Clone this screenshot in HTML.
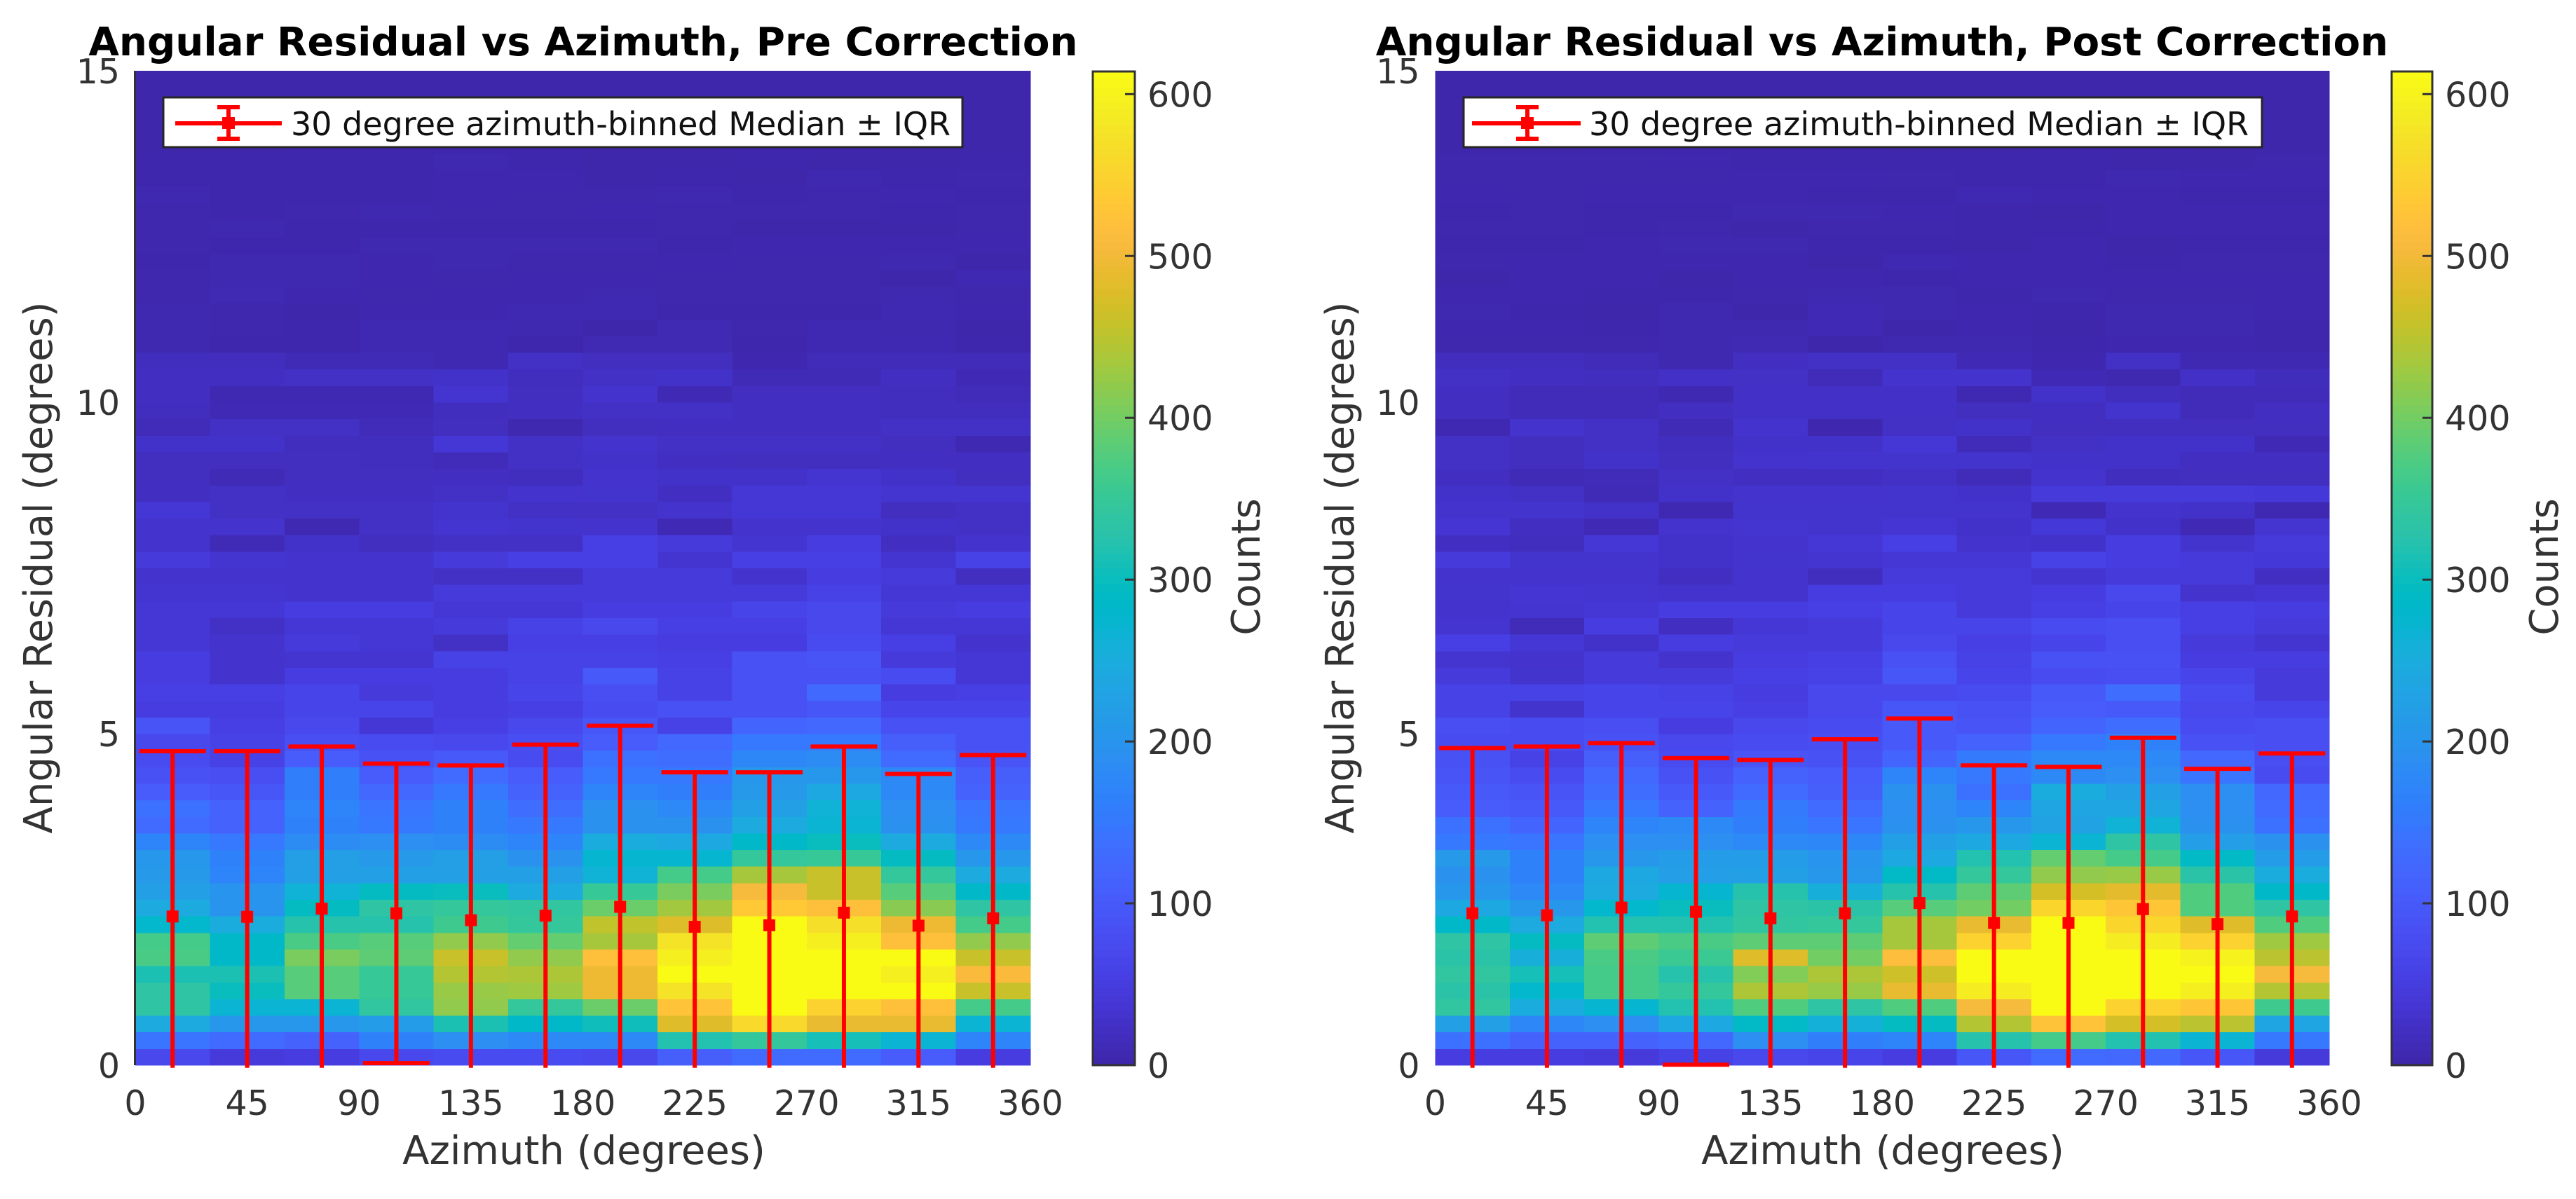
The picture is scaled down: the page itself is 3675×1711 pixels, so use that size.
<!DOCTYPE html>
<html lang="en">
<head>
<meta charset="utf-8">
<title>Angular Residual vs Azimuth</title>
<style>
html,body{margin:0;padding:0;background:#fff;}
svg{display:block;}
text{font-family:"DejaVu Sans","Liberation Sans",sans-serif;fill:#333;}
.ttl{font-size:56.3px;font-weight:bold;fill:#000;text-anchor:middle;}
.lab{font-size:56px;text-anchor:middle;}
.leg{font-size:46px;fill:#111;}
.tick{font-size:49px;}
</style>
</head>
<body>
<svg xmlns="http://www.w3.org/2000/svg" width="3675" height="1711" viewBox="0 0 3675 1711">
  <g id="pre-panel">
    <g id="pre-cells" shape-rendering="crispEdges"></g>
    <line x1="192.5" y1="101" x2="192.5" y2="1520" stroke="#333" stroke-width="3"/>
    <g id="pre-errorbars"></g>
    <g id="pre-xticks"></g>
    <g id="pre-yticks"></g>
    <text class="ttl" x="832" y="79">Angular Residual vs Azimuth, Pre Correction</text>
    <text class="lab" x="833" y="1661">Azimuth (degrees)</text>
    <text class="lab" transform="translate(74,810) rotate(-90)">Angular Residual (degrees)</text>
    <g>
      <rect x="233" y="139" width="1140" height="71" fill="#fff" stroke="#262626" stroke-width="3"/>
      <line x1="250" y1="176" x2="402" y2="176" stroke="#f00" stroke-width="6"/>
      <line x1="326" y1="153" x2="326" y2="198" stroke="#f00" stroke-width="6"/>
      <line x1="310" y1="153" x2="342" y2="153" stroke="#f00" stroke-width="6"/>
      <line x1="310" y1="198" x2="342" y2="198" stroke="#f00" stroke-width="6"/>
      <rect x="317" y="167" width="18" height="17" fill="#f00"/>
      <text class="leg" x="415" y="193">30 degree azimuth-binned Median ± IQR</text>
    </g>
    <g id="pre-colorbar"></g>
    <text class="lab" transform="translate(1797,809) rotate(-90)">Counts</text>
  </g>
  <g id="post-panel">
    <g id="post-cells" shape-rendering="crispEdges"></g>
    <g id="post-errorbars"></g>
    <g id="post-xticks"></g>
    <g id="post-yticks"></g>
    <text class="ttl" x="2685" y="79">Angular Residual vs Azimuth, Post Correction</text>
    <text class="lab" x="2686" y="1661">Azimuth (degrees)</text>
    <text class="lab" transform="translate(1931,810) rotate(-90)">Angular Residual (degrees)</text>
    <g>
      <rect x="2088" y="139" width="1139" height="71" fill="#fff" stroke="#262626" stroke-width="3"/>
      <line x1="2100" y1="176" x2="2255" y2="176" stroke="#f00" stroke-width="6"/>
      <line x1="2179" y1="153" x2="2179" y2="198" stroke="#f00" stroke-width="6"/>
      <line x1="2163" y1="153" x2="2195" y2="153" stroke="#f00" stroke-width="6"/>
      <line x1="2163" y1="198" x2="2195" y2="198" stroke="#f00" stroke-width="6"/>
      <rect x="2170" y="167" width="18" height="17" fill="#f00"/>
      <text class="leg" x="2267" y="193">30 degree azimuth-binned Median ± IQR</text>
    </g>
    <g id="post-colorbar"></g>
    <text class="lab" transform="translate(3649,809) rotate(-90)">Counts</text>
  </g>
</svg>
<script>
const xTickValues = [0,45,90,135,180,225,270,315,360];
const yTickValues = [0,5,10,15];
const colorbarTickValues = [0,100,200,300,400,500,600];
const azimuthBinCenters = [15,45,75,105,135,165,195,225,255,285,315,345];

const preMedian = [2.243,2.238,2.36,2.29,2.186,2.255,2.388,2.087,2.11,2.30,2.104,2.214];
const preUpper = [4.736,4.736,4.806,4.55,4.52,4.835,5.12,4.417,4.417,4.806,4.394,4.678];
const preLower = [-0.04,-0.04,-0.04,0.03,-0.04,-0.04,-0.04,-0.04,-0.04,-0.04,-0.04,-0.04];
const postMedian = [2.29,2.26,2.377,2.313,2.214,2.29,2.446,2.145,2.145,2.354,2.128,2.243];
const postUpper = [4.783,4.806,4.858,4.632,4.603,4.916,5.229,4.522,4.499,4.939,4.47,4.701];
const postLower = [-0.04,-0.04,-0.04,0.006,-0.04,-0.04,-0.04,-0.04,-0.04,-0.04,-0.04,-0.04];

// counts per 0.25 degree residual row (bottom row first), 12 azimuth columns
const preCounts = [
[70,45,50,70,75,75,70,110,130,130,105,50],
[145,130,115,165,190,180,180,320,345,310,270,170],
[245,205,205,215,315,285,305,480,560,490,490,270],
[335,270,270,340,420,345,395,525,614,550,520,365],
[335,300,380,350,425,430,495,575,614,614,614,460],
[315,315,380,350,445,440,495,614,614,614,595,510],
[370,285,405,385,460,420,520,595,614,614,614,460],
[365,285,370,380,420,390,435,575,614,595,520,420],
[280,250,325,325,360,345,455,478,614,570,495,365],
[245,200,295,335,345,340,395,432,535,520,415,335],
[225,200,265,295,300,245,350,405,505,460,380,285],
[210,170,225,225,225,225,265,365,435,460,345,245],
[205,165,222,210,222,195,275,275,345,350,295,205],
[170,150,185,190,185,170,250,240,285,300,245,180],
[130,115,165,150,165,150,195,195,245,270,195,150],
[140,115,170,145,165,135,195,180,225,265,190,145],
[105,95,160,125,150,115,170,160,210,240,180,115],
[85,80,160,105,130,105,150,150,205,205,180,110],
[75,60,105,85,100,75,140,135,175,185,130,90],
[70,60,80,75,70,80,105,125,150,150,110,85],
[90,55,70,40,55,70,95,60,120,125,85,85],
[50,50,65,65,50,55,75,85,85,95,65,65],
[55,55,65,45,50,65,80,60,85,127,50,55],
[50,30,50,50,50,60,100,60,85,88,75,40],
[50,30,35,35,60,60,60,55,85,90,45,40],
[40,30,45,40,25,55,55,50,50,75,55,30],
[40,25,40,40,45,60,70,55,55,70,40,40],
[40,40,50,50,40,40,50,50,65,70,45,50],
[35,35,30,30,45,45,45,45,45,60,40,40],
[30,30,30,30,25,25,45,45,30,50,45,20],
[45,35,30,30,45,55,55,35,55,55,35,60],
[30,12,28,20,25,25,55,45,35,50,22,30],
[30,30,8,25,35,32,30,10,30,30,28,25],
[40,25,25,25,32,25,25,30,40,40,20,25],
[22,25,22,22,25,30,32,22,40,40,35,35],
[20,12,20,20,22,18,30,28,28,35,28,20],
[20,20,20,18,14,25,28,22,20,20,22,22],
[28,28,18,18,40,25,30,25,25,25,20,8],
[14,25,25,15,20,6,20,22,22,22,24,24],
[18,10,10,10,18,22,25,25,22,22,18,18],
[22,8,8,8,35,20,30,10,22,22,18,15],
[22,22,25,25,28,18,25,28,12,12,22,10],
[18,18,12,12,8,24,20,20,5,14,14,14],
[6,3,3,8,8,3,9,9,3,8,8,3],
[6,4,3,8,8,7,2,9,4,8,7,2],
[6,4,2,5,5,8,8,3,3,3,8,5],
[4,9,5,4,5,5,7,4,4,4,7,4],
[4,6,6,5,4,5,5,4,4,4,1,8],
[3,6,6,5,6,4,4,5,4,4,6,2],
[4,3,3,6,6,6,6,3,5,5,5,5],
[4,7,3,3,3,3,3,4,2,2,2,4],
[4,3,4,6,4,4,5,4,4,4,3,4],
[7,3,3,3,5,4,4,6,3,4,5,3],
[3,3,3,3,5,5,2,3,2,7,3,4],
[3,3,3,3,6,3,2,2,3,2,2,3],
[2,2,3,3,3,3,2,2,3,3,2,2],
[2,2,2,2,2,2,2,2,2,2,2,2],
[2,2,2,2,2,2,2,2,2,2,2,2],
[1,1,1,1,1,1,1,1,1,1,1,1],
[1,1,1,1,1,1,1,1,1,1,1,1]
];
const postCounts = [
[50,50,45,60,70,65,50,95,130,125,95,45],
[140,115,115,125,190,160,170,325,365,320,270,150],
[225,175,190,240,290,260,295,445,525,470,450,235],
[340,250,275,320,375,335,375,505,614,550,530,360],
[330,280,365,345,440,425,490,590,614,614,595,445],
[340,310,365,325,410,440,465,614,614,614,614,505],
[330,255,370,355,480,400,515,614,614,614,600,450],
[335,295,385,370,385,385,435,550,614,590,550,430],
[285,245,320,320,340,345,435,490,614,555,480,375],
[240,205,280,300,335,330,380,400,555,530,375,335],
[205,180,245,275,325,255,325,385,470,485,375,285],
[195,165,240,220,225,205,290,345,420,425,330,250],
[210,165,205,215,215,200,240,320,390,365,290,215],
[150,145,190,190,180,175,225,240,270,335,220,195],
[140,120,170,180,160,145,195,205,230,265,195,140],
[105,100,150,115,155,130,190,170,235,235,190,130],
[100,90,135,100,130,110,195,140,250,225,190,125],
[90,75,125,85,115,105,170,150,180,190,145,75],
[85,60,110,75,90,85,120,155,180,180,125,80],
[75,75,85,70,75,80,100,115,150,165,85,80],
[80,75,80,50,70,75,100,90,120,135,75,80],
[60,32,65,65,55,70,95,85,105,100,70,65],
[60,60,65,60,50,70,70,75,100,135,75,45],
[45,32,45,45,55,60,95,65,75,80,65,45],
[35,30,45,30,50,55,85,60,85,85,50,50],
[55,40,28,50,45,45,70,55,65,80,45,35],
[35,15,50,22,40,45,65,65,75,80,55,45],
[30,35,40,50,50,55,65,45,55,65,55,50],
[32,38,35,30,30,50,50,45,50,70,30,38],
[30,30,30,22,30,18,45,45,35,45,45,22],
[45,32,32,28,32,35,40,40,60,50,45,42],
[22,18,40,28,30,40,55,30,28,50,32,45],
[38,22,10,30,35,32,38,28,42,28,10,35],
[30,32,28,8,32,32,32,32,10,30,28,8],
[28,25,12,28,30,30,32,28,45,45,45,42],
[22,12,14,25,22,22,25,15,30,18,20,20],
[25,20,28,20,30,32,32,32,28,28,22,22],
[25,20,25,18,28,28,40,15,25,28,28,10],
[8,30,25,12,30,5,25,28,20,20,20,20],
[22,14,14,22,26,26,26,20,22,32,14,22],
[22,14,14,8,26,26,26,8,28,18,14,14],
[25,22,18,26,25,14,30,30,10,6,26,16],
[18,18,14,6,22,25,25,10,5,25,8,8],
[4,4,4,6,9,2,6,7,3,5,5,3],
[5,5,3,7,6,10,2,5,2,7,6,3],
[6,3,2,6,2,10,6,5,3,6,7,5],
[5,5,3,3,4,7,7,3,7,4,4,5],
[2,5,5,2,5,5,3,5,5,5,5,5],
[4,5,5,5,5,2,8,5,5,3,4,4],
[3,3,5,6,6,3,3,1,5,2,3,3],
[4,4,3,4,2,4,4,3,3,5,5,5],
[3,4,3,3,6,6,5,3,2,5,5,5],
[5,4,5,5,5,3,3,8,5,5,3,3],
[4,4,4,4,5,5,4,3,3,6,5,5],
[4,4,4,5,3,3,3,3,3,2,2,4],
[2,2,3,3,3,3,2,2,3,3,2,2],
[2,2,2,2,2,2,2,2,2,2,2,2],
[2,2,2,2,2,2,2,2,2,2,2,2],
[1,1,1,1,1,1,1,1,1,1,1,1],
[1,1,1,1,1,1,1,1,1,1,1,1]
];

const parulaColormap = [
[.2422,.1504,.6603],[.2504,.165,.7076],[.2578,.1818,.7511],[.2647,.1978,.7952],[.2706,.2147,.8364],[.2751,.2342,.871],[.2783,.2559,.8991],[.2803,.2782,.9221],
[.2813,.3006,.9414],[.281,.3228,.9579],[.2795,.3447,.9717],[.276,.3667,.9829],[.2699,.3892,.9906],[.2602,.4123,.9952],[.244,.4358,.9988],[.2206,.4603,.9973],
[.1963,.4847,.9892],[.1834,.5074,.9798],[.1786,.5289,.9682],[.1764,.5499,.952],[.1687,.5703,.9359],[.154,.5902,.9218],[.146,.6091,.9079],[.138,.6276,.8973],
[.1248,.6459,.8883],[.1113,.6635,.8763],[.0952,.6798,.8598],[.0689,.6948,.8394],[.0297,.7082,.8163],[.0036,.7203,.7917],[.0067,.7312,.766],[.0433,.7411,.7394],
[.0964,.75,.712],[.1408,.7584,.6842],[.1717,.767,.6554],[.1938,.7758,.6251],[.2161,.7843,.5923],[.247,.7918,.5567],[.2906,.7973,.5188],[.3406,.8008,.4789],
[.3909,.8029,.4354],[.4456,.8024,.3909],[.5044,.7993,.348],[.5616,.7942,.3045],[.6174,.7876,.2612],[.672,.7793,.2227],[.7242,.7698,.191],[.7738,.7598,.1646],
[.8203,.7498,.1535],[.8634,.7406,.1596],[.9035,.733,.1774],[.9393,.7288,.21],[.9728,.7298,.2394],[.9956,.7434,.2371],[.997,.7659,.2199],[.9952,.7893,.2028],
[.9892,.8136,.1885],[.9786,.8386,.1766],[.9676,.8639,.1643],[.961,.889,.1537],[.9597,.9135,.1423],[.9628,.9373,.1265],[.9691,.9606,.1064],[.9769,.9839,.0805]
];

const SVGNS = 'http://www.w3.org/2000/svg';
const countMax = 614;
const azMax = 360;
const resMax = 15;
const rowStep = 0.25;
const binWidth = 30;
const plotTop = 101;
const plotBottom = 1520;
const colorbarStrips = 128;

function colorFor(v) {
  const t = Math.max(0, Math.min(1, v / countMax)) * 63;
  const i = Math.min(62, Math.floor(t));
  const f = t - i;
  const a = parulaColormap[i], b = parulaColormap[i + 1];
  return 'rgb(' + [0, 1, 2].map(function (k) { return Math.round((a[k] + (b[k] - a[k]) * f) * 255); }).join(',') + ')';
}
function make(tag, attrs, parent) {
  const node = document.createElementNS(SVGNS, tag);
  Object.keys(attrs).forEach(function (k) { node.setAttribute(k, attrs[k]); });
  parent.appendChild(node);
  return node;
}
function drawPanel(prefix, x0, x1, cbX0, cbX1, counts, median, upper, lower) {
  const xScale = function (az) { return x0 + az / azMax * (x1 - x0); };
  const yScale = function (r) { return plotBottom - r / resMax * (plotBottom - plotTop); };
  const cScale = function (c) { return plotBottom - c / countMax * (plotBottom - plotTop - 1); };

  const cellsG = document.getElementById(prefix + '-cells');
  counts.forEach(function (row, r) {
    row.forEach(function (value, c) {
      const xa = xScale(c * binWidth), xb = xScale((c + 1) * binWidth);
      const ya = yScale((r + 1) * rowStep), yb = yScale(r * rowStep);
      const cell = make('rect', {x: xa, y: ya, width: xb - xa + 0.5, height: yb - ya + 0.5, fill: colorFor(value)}, cellsG);
      
      
    });
  });

  const barsG = document.getElementById(prefix + '-errorbars');
  azimuthBinCenters.forEach(function (az, i) {
    const cx = xScale(az);
    const stem = make('line', {x1: cx, x2: cx, y1: yScale(upper[i]), y2: yScale(lower[i]), stroke: '#f00', 'stroke-width': 6}, barsG);
    
    
    const capTop = make('line', {x1: cx - 47.5, x2: cx + 47.5, y1: yScale(upper[i]), y2: yScale(upper[i]), stroke: '#f00', 'stroke-width': 6}, barsG);
    
    
    if (lower[i] >= 0) {
      const capLow = make('line', {x1: cx - 47.5, x2: cx + 47.5, y1: yScale(lower[i]), y2: yScale(lower[i]), stroke: '#f00', 'stroke-width': 6}, barsG);
      
      
    }
    const marker = make('rect', {x: cx - 8.5, y: yScale(median[i]) - 8.5, width: 17, height: 17, fill: '#f00'}, barsG);
    
    
  });

  const xG = document.getElementById(prefix + '-xticks');
  xTickValues.forEach(function (t) {
    const lab = make('text', {class: 'tick', x: xScale(t), y: 1591, 'text-anchor': 'middle'}, xG);
    lab.textContent = String(t);
    
    
  });

  const yG = document.getElementById(prefix + '-yticks');
  yTickValues.forEach(function (t) {
    const lab = make('text', {class: 'tick', x: x0 - 22, y: yScale(t) + 18, 'text-anchor': 'end'}, yG);
    lab.textContent = String(t);
    
    
  });

  const cbG = document.getElementById(prefix + '-colorbar');
  for (let i = 0; i < colorbarStrips; i++) {
    const ya = cScale((i + 1) / colorbarStrips * countMax), yb = cScale(i / colorbarStrips * countMax);
    const strip = make('rect', {x: cbX0, y: ya, width: cbX1 - cbX0, height: yb - ya + 0.6, fill: colorFor((i + 0.5) / colorbarStrips * countMax), 'shape-rendering': 'crispEdges'}, cbG);
    
    
  }
  const frame = make('rect', {x: cbX0, y: cScale(countMax), width: cbX1 - cbX0, height: cScale(0) - cScale(countMax), fill: 'none', stroke: '#333', 'stroke-width': 3}, cbG);
  
  
  colorbarTickValues.forEach(function (t) {
    const tick = make('line', {x1: cbX1 - 14, x2: cbX1, y1: cScale(t), y2: cScale(t), stroke: '#333', 'stroke-width': 3}, cbG);
    
    
    const lab = make('text', {class: 'tick', x: cbX1 + 18, y: cScale(t) + 18, 'text-anchor': 'start'}, cbG);
    lab.textContent = String(t);
    
    
  });
}
drawPanel('pre', 193, 1470, 1559, 1619, preCounts, preMedian, preUpper, preLower);
drawPanel('post', 2047.5, 3323, 3412, 3470, postCounts, postMedian, postUpper, postLower);
</script>
</body>
</html>
